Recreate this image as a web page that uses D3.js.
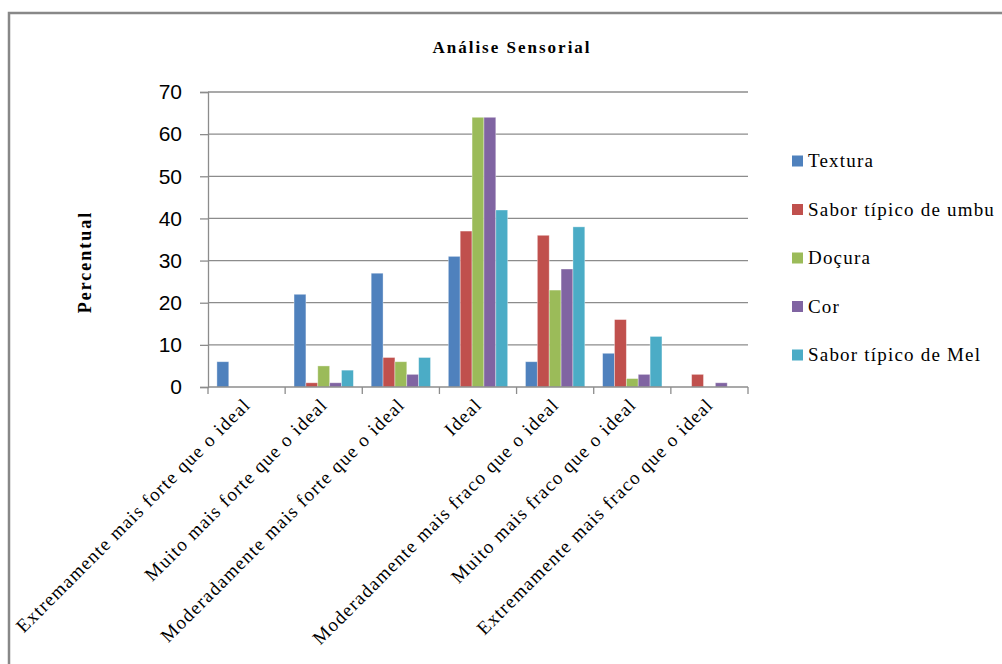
<!DOCTYPE html>
<html>
<head>
<meta charset="utf-8">
<script src="https://cdn.jsdelivr.net/npm/d3@7"></script>
<style>
  body { margin: 0; background: #fff; }
  svg { display: block; }
</style>
</head>
<body>
<script>
// categories on the x axis
var categories = [
  "Extremamente mais forte que o ideal",
  "Muito mais forte que o ideal",
  "Moderadamente mais forte que o ideal",
  "Ideal",
  "Moderadamente mais fraco que o ideal",
  "Muito mais fraco que o ideal",
  "Extremamente mais fraco que o ideal"
];

// series names (legend order)
var seriesNames = ["Textura", "Sabor típico de umbu", "Doçura", "Cor", "Sabor típico de Mel"];

// values per series, one per category (percent)
var textura   = [6, 22, 27, 31, 6, 8, 0];
var saborUmbu = [0, 1, 7, 37, 36, 16, 3];
var docura    = [0, 5, 6, 64, 23, 2, 0];
var cor       = [0, 1, 3, 64, 28, 3, 1];
var saborMel  = [0, 4, 7, 42, 38, 12, 0];

var yTicks = [0, 10, 20, 30, 40, 50, 60, 70];

var colors = ["#4F81BD", "#C0504D", "#9BBB59", "#8064A2", "#4BACC6"];

var seriesValues = [textura, saborUmbu, docura, cor, saborMel];

var serifFont = "'Liberation Serif', 'DejaVu Serif', serif";
var sansFont = "'Liberation Sans', Arial, sans-serif";

var width = 1002, height = 664;
var plot = {left: 208, right: 748, top: 92, bottom: 387};

var svg = d3.select("body").append("svg")
    .attr("width", width)
    .attr("height", height);

// outer chart frame (runs off the right and bottom edge)
svg.append("rect")
    .attr("x", 9)
    .attr("y", 13)
    .attr("width", 1100)
    .attr("height", 700)
    .attr("fill", "none")
    .attr("stroke", "#888")
    .attr("stroke-width", 2.5);

// scales
var x0 = d3.scaleBand()
    .domain(categories)
    .range([plot.left, plot.right])
    .padding(0);

var x1 = d3.scaleBand()
    .domain(seriesNames)
    .range([0, x0.bandwidth()])
    .paddingInner(0)
    .paddingOuter(0.75);

var y = d3.scaleLinear()
    .domain([0, 70])
    .range([plot.bottom, plot.top]);

// gridlines
svg.append("g")
  .selectAll("line")
  .data(yTicks.filter(function(d){ return d > 0; }))
  .enter().append("line")
    .attr("x1", plot.left)
    .attr("x2", plot.right)
    .attr("y1", function(d){ return y(d); })
    .attr("y2", function(d){ return y(d); })
    .attr("stroke", "#8c8c8c")
    .attr("stroke-width", 1.3);

// y axis
var yAxis = svg.append("g")
    .attr("transform", "translate(" + plot.left + ",0)")
    .call(d3.axisLeft(y).tickValues(yTicks).tickSize(8).tickPadding(18));
yAxis.select(".domain").attr("stroke", "#8c8c8c").attr("stroke-width", 1.3);
yAxis.selectAll(".tick line").attr("stroke", "#8c8c8c").attr("stroke-width", 1.3);
yAxis.selectAll(".tick text")
    .style("font-family", sansFont)
    .style("font-size", "21px")
    .attr("fill", "#000");

// bars
var groups = svg.append("g")
  .selectAll("g")
  .data(categories)
  .enter().append("g")
    .attr("transform", function(d){ return "translate(" + x0(d) + ",0)"; });

groups.selectAll("rect")
  .data(function(d, i){
      return seriesNames.map(function(s, j){ return {series: s, value: seriesValues[j][i], idx: j}; });
  })
  .enter().append("rect")
    .filter(function(d){ return d.value > 0; })
    .attr("x", function(d){ return x1(d.series); })
    .attr("width", x1.bandwidth())
    .attr("y", function(d){ return y(d.value); })
    .attr("height", function(d){ return y(0) - y(d.value); })
    .attr("fill", function(d){ return colors[d.idx]; })
    .attr("stroke", "#ffffff")
    .attr("stroke-opacity", 0.45)
    .attr("stroke-width", 0.8);

// x axis
var xAxis = svg.append("g")
    .attr("transform", "translate(0," + plot.bottom + ")");
xAxis.append("line")
    .attr("x1", plot.left).attr("x2", plot.right)
    .attr("y1", 0).attr("y2", 0)
    .attr("stroke", "#8c8c8c").attr("stroke-width", 1.3);
xAxis.selectAll("line.tick")
  .data(categories.concat(["end"]))
  .enter().append("line")
    .attr("class", "tick")
    .attr("x1", function(d){ return d === "end" ? plot.right : x0(d); })
    .attr("x2", function(d){ return d === "end" ? plot.right : x0(d); })
    .attr("y1", 0).attr("y2", 7)
    .attr("stroke", "#8c8c8c").attr("stroke-width", 1.3);

// rotated category labels
svg.append("g")
  .selectAll("text")
  .data(categories)
  .enter().append("text")
    .attr("transform", function(d){
        var cx = x0(d) + x0.bandwidth() / 2 + 5;
        return "translate(" + cx + "," + (plot.bottom + 19) + ") rotate(-45)";
    })
    .attr("text-anchor", "end")
    .style("font-family", serifFont)
    .style("font-size", "19px")
    .style("letter-spacing", "1.2px")
    .attr("fill", "#000")
    .text(function(d){ return d; });

// title
svg.append("text")
    .attr("x", 512)
    .attr("y", 53)
    .attr("text-anchor", "middle")
    .style("font-family", serifFont)
    .style("font-weight", "bold")
    .style("font-size", "17px")
    .style("letter-spacing", "2px")
    .text("Análise Sensorial");

// y axis title
svg.append("text")
    .attr("transform", "translate(91,262) rotate(-90)")
    .attr("text-anchor", "middle")
    .style("font-family", serifFont)
    .style("font-weight", "bold")
    .style("font-size", "18px")
    .style("letter-spacing", "2px")
    .text("Percentual");

// legend
var legend = svg.append("g")
  .selectAll("g")
  .data(seriesNames)
  .enter().append("g")
    .attr("transform", function(d, i){ return "translate(792," + (161 + i * 48.5) + ")"; });

legend.append("rect")
    .attr("x", 0).attr("y", -5.5)
    .attr("width", 11).attr("height", 11)
    .attr("fill", function(d, i){ return colors[i]; });

legend.append("text")
    .attr("x", 16)
    .attr("y", 6)
    .style("font-family", serifFont)
    .style("font-size", "19px")
    .style("letter-spacing", "1.2px")
    .text(function(d){ return d; });
</script>
</body>
</html>
